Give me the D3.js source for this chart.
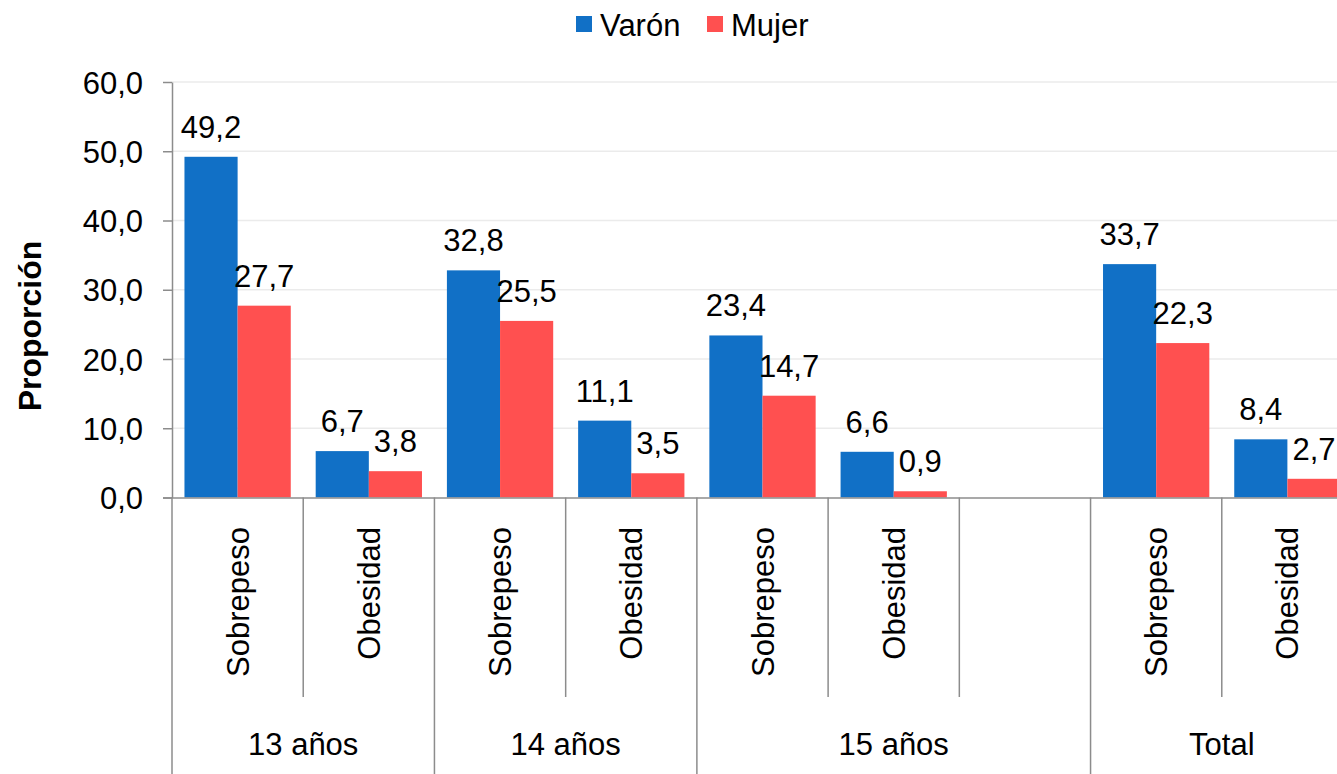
<!DOCTYPE html>
<html>
<head>
<meta charset="utf-8">
<title>Sobrepeso y obesidad</title>
<script src="https://d3js.org/d3.v7.min.js"></script>
<style>
  body { margin:0; background:#fff; }
  text { font-family: "Liberation Sans", Arial, sans-serif; fill:#000; }
</style>
</head>
<body>
<svg id="chart" width="1337" height="774"></svg>
<script>
// data
var categories = ["Sobrepeso","Obesidad","Sobrepeso","Obesidad","Sobrepeso","Obesidad","","Sobrepeso","Obesidad"]
var groups = ["13 años","14 años","15 años","Total"]
var groupSizes = [2, 2, 3, 2]
var varon = [49.2, 6.7, 32.8, 11.1, 23.4, 6.6, null, 33.7, 8.4]
var mujer = [27.7, 3.8, 25.5, 3.5, 14.7, 0.9, null, 22.3, 2.7]
var yTicks = [0, 10, 20, 30, 40, 50, 60]
var seriesNames = ["Varón", "Mujer"]
var colors = ["#1170c6", "#ff5050"]

var svg = d3.select("#chart")
var W = 1337
var plotLeft = 172, plotTop = 82, base = 497.5
var axisColor = "#8c8c8c"
var fs = "31px"

var x0 = d3.scaleBand().domain(d3.range(categories.length)).range([plotLeft, 1353])
var step = x0.step()
var x1 = d3.scaleBand().domain(seriesNames).range([step * 0.095, step * 0.905])
var y = d3.scaleLinear().domain([0, 60]).range([base, plotTop])
var fmt = function(v) { return d3.format(".1f")(v).replace(".", ",") }

// gridlines
svg.append("g").selectAll("line").data(yTicks.filter(function(d){ return d > 0 }))
  .enter().append("line")
  .attr("x1", plotLeft).attr("x2", W)
  .attr("y1", function(d){ return y(d) }).attr("y2", function(d){ return y(d) })
  .attr("stroke", "#ebebeb").attr("stroke-width", 1.5)

// y axis
var yAxis = svg.append("g").attr("transform", "translate(" + plotLeft + ",0)")
  .call(d3.axisLeft(y).tickValues(yTicks).tickSize(9).tickSizeOuter(0).tickPadding(20).tickFormat(fmt))
yAxis.selectAll("path, line").attr("stroke", axisColor).attr("stroke-width", 1.5)
yAxis.selectAll("text").style("font-size", fs).attr("fill", "#000").attr("dy", "0.36em")
  .style("font-family", "'Liberation Sans', Arial, sans-serif")

// y title
svg.append("text")
  .attr("transform", "translate(41,326) rotate(-90)")
  .attr("text-anchor", "middle")
  .style("font-size", "32px").style("font-weight", "bold")
  .text("Proporción")

// bars
var rows = categories.map(function(c, i) {
  return { i: i, vals: [varon[i], mujer[i]] }
})

seriesNames.forEach(function(s, k) {
  var keep = rows.filter(function(d){ return d.vals[k] != null })
  var g = svg.append("g")
  g.selectAll("rect").data(keep).enter().append("rect")
    .attr("x", function(d){ return x0(d.i) + x1(s) })
    .attr("width", x1.bandwidth())
    .attr("y", function(d){ return y(d.vals[k]) })
    .attr("height", function(d){ return base - y(d.vals[k]) })
    .attr("fill", colors[k])
  g.selectAll("text").data(keep).enter().append("text")
    .attr("x", function(d){ return x0(d.i) + x1(s) + x1.bandwidth() / 2 })
    .attr("y", function(d){ return y(d.vals[k]) - 19 })
    .attr("text-anchor", "middle")
    .style("font-size", fs)
    .text(function(d){ return fmt(d.vals[k]) })
})

// x axis baseline
svg.append("line").attr("x1", plotLeft - 9).attr("x2", W)
  .attr("y1", base + 0.5).attr("y2", base + 0.5)
  .attr("stroke", axisColor).attr("stroke-width", 1.5)

// separators between slots and groups
var groupStarts = [0]
groupSizes.forEach(function(n, j){ groupStarts.push(groupStarts[j] + n) })
d3.range(categories.length + 1).forEach(function(i) {
  var xx = plotLeft + i * step
  var isGroup = groupStarts.indexOf(i) >= 0
  svg.append("line").attr("x1", xx).attr("x2", xx)
    .attr("y1", base).attr("y2", isGroup ? 774 : 697)
    .attr("stroke", axisColor).attr("stroke-width", 1.5)
})

// category labels
svg.append("g").selectAll("text").data(rows).enter().append("text")
  .attr("transform", function(d){ return "translate(" + (x0(d.i) + step / 2 + 11) + ",527) rotate(-90)" })
  .attr("text-anchor", "end")
  .style("font-size", fs)
  .text(function(d){ return categories[d.i] })

// group labels
svg.append("g").selectAll("text").data(groups).enter().append("text")
  .attr("x", function(d, j){ return plotLeft + (groupStarts[j] + groupSizes[j] / 2) * step })
  .attr("y", 755)
  .attr("text-anchor", "middle")
  .style("font-size", fs)
  .text(function(d){ return d })

// legend
var legX = [576, 707]
seriesNames.forEach(function(s, k) {
  svg.append("rect").attr("x", legX[k]).attr("y", 16).attr("width", 16).attr("height", 16)
    .attr("fill", colors[k])
  svg.append("text").attr("x", legX[k] + 24).attr("y", 36)
    .style("font-size", fs).text(s)
})
</script>
</body>
</html>
